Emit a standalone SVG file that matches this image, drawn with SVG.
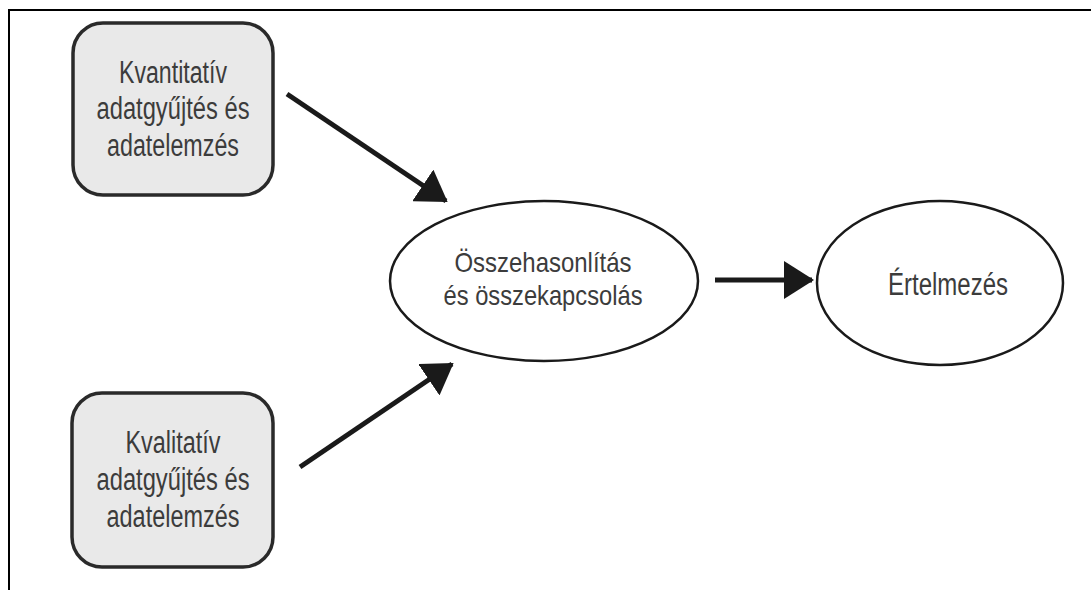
<svg xmlns="http://www.w3.org/2000/svg" width="1091" height="590" viewBox="0 0 1091 590">
  <defs>
    <style>
      .box { fill: #e9e9e9; stroke: #2a2a2a; stroke-width: 3.5; }
      .ell { fill: #ffffff; stroke: #1a1a1a; stroke-width: 2.5; }
      .lbl { font-family: "Liberation Sans", Arial, sans-serif; fill: #3c3c3c; text-anchor: middle; }
      .big { font-size: 31px; }
      .mid { font-size: 28px; }
      .conn { stroke: #1a1a1a; stroke-width: 5; fill: none; marker-end: url(#head); }
      .frame { stroke: #000; stroke-width: 2; fill: none; }
    </style>
    <marker id="head" viewBox="0 0 30 38" refX="28" refY="19" markerWidth="30" markerHeight="38" markerUnits="userSpaceOnUse" orient="auto">
      <path d="M0,0 L30,19 L0,38 Z" fill="#1a1a1a"/>
    </marker>
  </defs>
  <rect width="1091" height="590" fill="#ffffff"/>
  <path class="frame" d="M9,590 L9,10 L1091,10"/>

  <g id="connectors">
    <line class="conn" x1="287" y1="94" x2="446" y2="201"/>
    <line class="conn" x1="300" y1="467" x2="452" y2="364"/>
    <line class="conn" x1="715" y1="280" x2="812" y2="280"/>
  </g>

  <g id="node-kvantitativ">
    <rect class="box" x="73" y="23" width="200" height="172" rx="30" ry="30"/>
    <text class="lbl big" x="173" y="83" textLength="108" lengthAdjust="spacingAndGlyphs">Kvantitatív</text>
    <text class="lbl big" x="173" y="119" textLength="153" lengthAdjust="spacingAndGlyphs">adatgyűjtés és</text>
    <text class="lbl big" x="173" y="156" textLength="132" lengthAdjust="spacingAndGlyphs">adatelemzés</text>
  </g>

  <g id="node-kvalitativ">
    <rect class="box" x="72" y="393" width="201" height="174" rx="30" ry="30"/>
    <text class="lbl big" x="173" y="453" textLength="95" lengthAdjust="spacingAndGlyphs">Kvalitatív</text>
    <text class="lbl big" x="173" y="490" textLength="153" lengthAdjust="spacingAndGlyphs">adatgyűjtés és</text>
    <text class="lbl big" x="173" y="527" textLength="133" lengthAdjust="spacingAndGlyphs">adatelemzés</text>
  </g>

  <g id="node-osszehasonlitas">
    <ellipse class="ell" cx="544" cy="281" rx="154" ry="80"/>
    <text class="lbl mid" x="543" y="272" textLength="177" lengthAdjust="spacingAndGlyphs">Összehasonlítás</text>
    <text class="lbl mid" x="543" y="305" textLength="199" lengthAdjust="spacingAndGlyphs">és összekapcsolás</text>
  </g>

  <g id="node-ertelmezes">
    <ellipse class="ell" cx="940" cy="283" rx="123" ry="82"/>
    <text class="lbl big" x="948" y="295" textLength="120" lengthAdjust="spacingAndGlyphs">Értelmezés</text>
  </g>
</svg>
